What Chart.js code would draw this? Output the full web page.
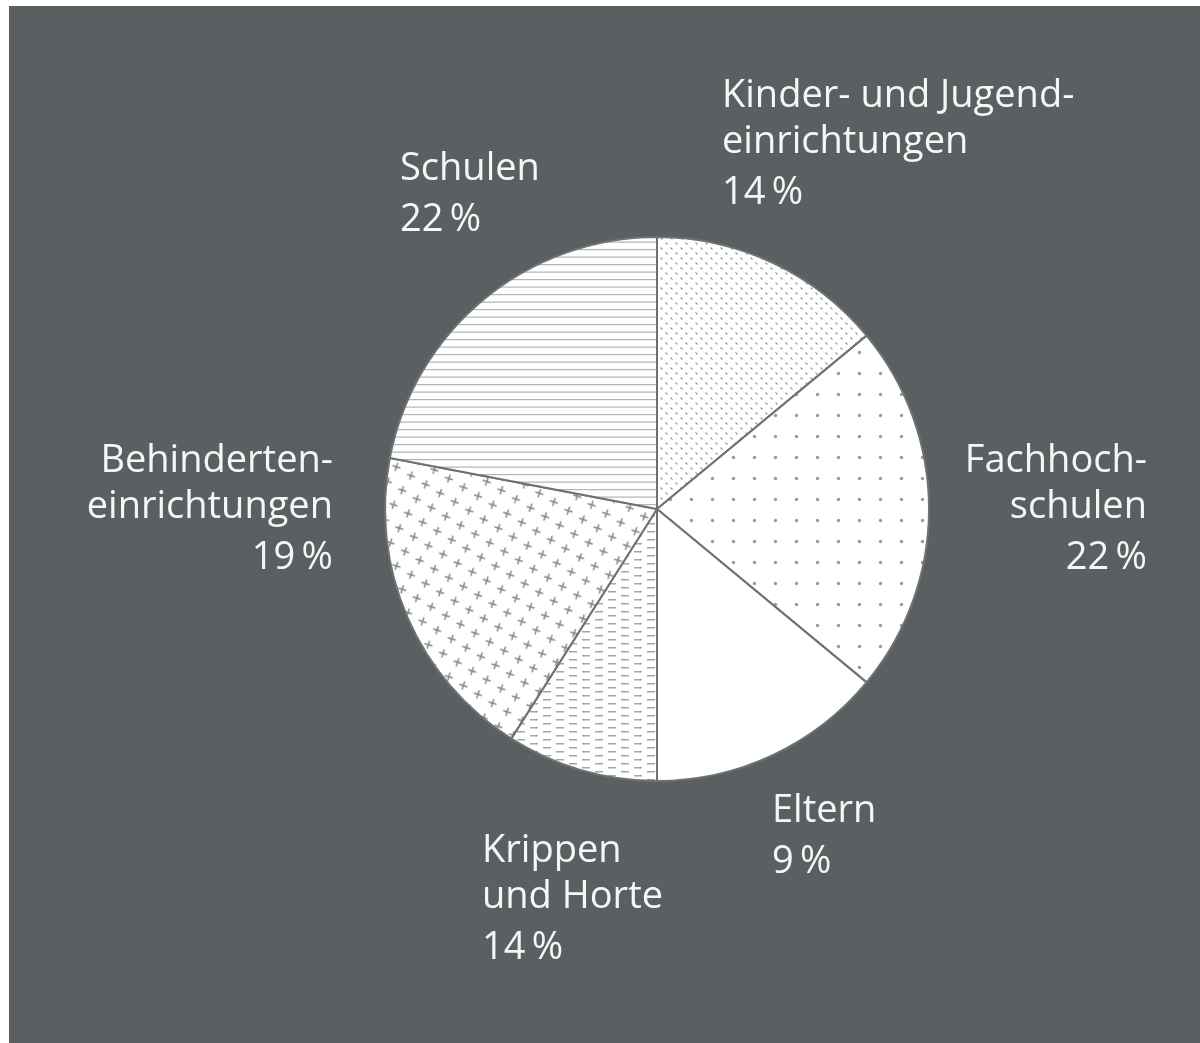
<!DOCTYPE html>
<html lang="de">
<head>
<meta charset="utf-8">
<title>Verteilung nach Einrichtungen</title>
<script src="https://cdn.jsdelivr.net/npm/chart.js@4.4.1/dist/chart.umd.min.js"></script>
<style>
    html, body { margin: 0; padding: 0; background: #ffffff; }
    #panel {
        position: absolute;
        left: 9px;
        top: 6px;
        width: 1191px;
        height: 1037px;
        background: #5a6061;
    }
    #pieChart { display: block; }
</style>
</head>
<body>
<div id="panel">
    <canvas id="pieChart" width="1191" height="1037"></canvas>
</div>
<script>
// --- DATA ---
// clockwise from 12 o'clock, in the order the slices are drawn
const categories = [
    ['Kinder- und Jugend-', 'einrichtungen'],
    ['Fachhoch-', 'schulen'],
    ['Eltern'],
    ['Krippen', 'und Horte'],
    ['Behinderten-', 'einrichtungen'],
    ['Schulen']
];
// slice sizes as drawn in the picture
const shares = [14, 22, 14, 9, 19, 22];
// percentages as printed next to the slices (Eltern / Krippen are printed swapped vs. the slice sizes)
const printedPct = [14, 22, 9, 14, 19, 22];

// --- LABEL LAYOUT (first baseline, relative to pie centre) ---
const labelLayout = [
    { dx: 65, dy: -402, align: 'left' },
    { dx: 490, dy: -37, align: 'right' },
    { dx: 115, dy: 313, align: 'left' },
    { dx: -175, dy: 353, align: 'left' },
    { dx: -324, dy: -37, align: 'right' },
    { dx: -257, dy: -329, align: 'left' }
];

const TEXT_COLOR = '#f6f6f6';
const LINE_GAP = 46;
const PCT_EXTRA = 5;

// --- PATTERNS ---
const makePattern = (w, h, draw, matrix) => {
    const c = document.createElement('canvas');
    c.width = w;
    c.height = h;
    const g = c.getContext('2d');
    g.fillStyle = '#ffffff';
    g.fillRect(0, 0, w, h);
    draw(g);
    const p = document.getElementById('pieChart').getContext('2d').createPattern(c, 'repeat');
    if (matrix && p.setTransform) p.setTransform(matrix);
    return p;
};

// tiny diagonal marks
const kinderPattern = makePattern(10, 10, g => {
    g.strokeStyle = '#969696';
    g.lineWidth = 1.1;
    [[2.5, 2.5], [7.5, 7.5]].forEach(([x, y]) => {
        g.beginPath();
        g.moveTo(x - 1, y - 1);
        g.lineTo(x + 1, y + 1);
        g.stroke();
    });
});

// sparse dot grid
const fachPattern = makePattern(21, 21, g => {
    g.fillStyle = '#9a9a9a';
    g.beginPath();
    g.arc(10.5, 10.5, 1.7, 0, Math.PI * 2);
    g.fill();
});

const elternPattern = '#ffffff';

// brick of short dashes
const krippenPattern = makePattern(26, 16, g => {
    g.fillStyle = '#a4a4a4';
    g.fillRect(1, 1, 8, 1.5);
    g.fillRect(1, 9, 8, 1.5);
    g.fillRect(14, 5, 8, 1.5);
    g.fillRect(14, 13, 8, 1.5);
});

// rotated lattice of plus signs (the plus itself turned back a little)
const plusPattern = makePattern(17, 17, g => {
    g.strokeStyle = '#858585';
    g.lineWidth = 1.5;
    g.translate(8.5, 8.5);
    g.rotate(-14 * Math.PI / 180);
    g.beginPath();
    g.moveTo(0, -4.2);
    g.lineTo(0, 4.2);
    g.moveTo(-4.2, 0);
    g.lineTo(4.2, 0);
    g.stroke();
}, new DOMMatrix().rotate(31));

// horizontal hairlines
const schulenPattern = makePattern(8, 15, g => {
    g.fillStyle = '#b4b4b4';
    g.fillRect(0, 3, 8, 1.2);
    g.fillRect(0, 10.5, 8, 1.2);
});

const slicePatterns = [kinderPattern, fachPattern, elternPattern, krippenPattern, plusPattern, schulenPattern];

// --- LABEL PLUGIN ---
const sliceLabels = {
    id: 'sliceLabels',
    afterDatasetsDraw(chart) {
        const ctx = chart.ctx;
        const arc = chart.getDatasetMeta(0).data[0];
        const cx = arc.x;
        const cy = arc.y;
        ctx.save();
        ctx.fillStyle = TEXT_COLOR;
        ctx.font = '38px "Open Sans", "DejaVu Sans", sans-serif';
        ctx.textBaseline = 'alphabetic';
        categories.forEach((lines, i) => {
            const pos = labelLayout[i];
            ctx.textAlign = pos.align;
            let y = cy + pos.dy;
            lines.forEach(line => {
                ctx.fillText(line, cx + pos.dx, y);
                y += LINE_GAP;
            });
            ctx.fillText(printedPct[i] + '\u2009%', cx + pos.dx, y + PCT_EXTRA);
        });
        ctx.restore();
    }
};

// --- CHART ---
new Chart(document.getElementById('pieChart'), {
    type: 'pie',
    data: {
        labels: categories.map(l => l.join(' ')),
        datasets: [{
            data: shares,
            backgroundColor: slicePatterns,
            borderColor: '#6d7375',
            borderWidth: 2,
            hoverOffset: 0
        }]
    },
    options: {
        responsive: false,
        animation: false,
        events: [],
        layout: {
            padding: { left: 375, top: 230, right: 270, bottom: 261 }
        },
        plugins: {
            legend: { display: false },
            tooltip: { enabled: false }
        }
    },
    plugins: [sliceLabels]
});
</script>
</body>
</html>
